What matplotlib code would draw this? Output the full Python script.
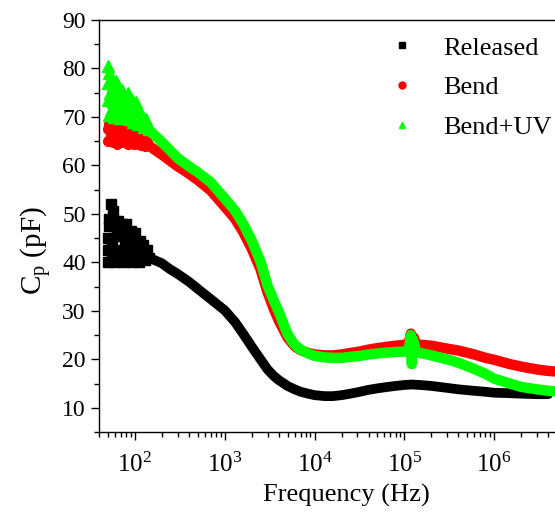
import matplotlib
matplotlib.use("Agg")
import matplotlib.pyplot as plt
from matplotlib.lines import Line2D
from matplotlib.ticker import LogLocator, MultipleLocator, NullFormatter

plt.rcParams['font.family'] = ['Liberation Serif', 'DejaVu Serif']
plt.rcParams['mathtext.fontset'] = 'custom'
plt.rcParams['mathtext.rm'] = 'Liberation Serif'
plt.rcParams['mathtext.it'] = 'Liberation Serif:italic'

# ---- data ----
released_f = [50, 50, 50, 51, 52, 54, 55, 56, 57, 58, 59, 60, 62, 63, 65, 67, 68, 70, 72, 74, 75, 78, 80,
              82, 84, 87, 90, 92, 96, 100, 102, 107, 110, 113, 118, 123, 128, 135, 142,
              150, 200, 245, 300, 400, 528, 700, 1000, 1300, 1600, 2000, 2500, 3000, 3500, 4000, 5000, 6000,
              7000, 8500, 10000, 13000, 16000, 20000, 25000, 32000, 40000, 50000, 65000, 80000, 100000,
              120000, 150000, 200000, 300000, 400000, 600000, 800000, 1e6, 1.5e6, 2e6, 3e6, 4e6]
released_c = [40.0, 42.5, 45.0, 47.5, 49.0, 52.0, 41.0, 44.0, 50.5, 47.5, 40.0, 48.5, 42.5, 46.0, 48.5, 40.2,
              45.5, 42.0, 48.0, 40.0, 46.0, 43.5, 48.0, 40.5, 45.5, 42.5, 46.5, 40.0, 44.0, 46.0, 41.5,
              43.5, 40.0, 44.5, 41.5, 43.5, 40.5, 42.5, 41.0,
              40.8, 39.8, 38.6, 37.6, 36.0, 34.2, 32.4, 30.1, 27.7, 25.3, 22.6, 20.0, 17.9, 16.6, 15.7, 14.5,
              13.8, 13.3, 12.9, 12.6, 12.4, 12.4, 12.6, 12.9, 13.3, 13.7, 14.0, 14.3, 14.5, 14.7,
              14.8, 14.7, 14.5, 14.1, 13.8, 13.5, 13.3, 13.1, 13.0, 12.9, 12.8, 12.8]

bend_f = [50, 50, 52, 53, 54, 56, 57, 58, 60, 61, 63, 65, 67, 69, 71, 74, 77, 80, 83, 86, 90, 94, 98,
          102, 107, 112, 118, 124, 130, 138,
          150, 200, 300, 400, 500, 700, 1000, 1300, 1600, 2000, 2500, 3000, 3500, 4000, 5000, 6000,
          7000, 8500, 10000, 13000, 16000, 20000, 25000, 32000, 40000, 50000, 65000, 80000, 100000,
          112000, 118000, 122000, 127000, 135000, 150000, 200000, 300000, 400000, 600000, 800000, 1e6,
          1.5e6, 2e6, 3e6, 4e6, 4.7e6]
bend_c = [65.0, 67.5, 68.5, 65.5, 66.5, 75.0, 64.8, 67.5, 65.5, 68.5, 64.5, 67.0, 72.0, 65.0, 67.5, 64.8,
          66.5, 68.0, 64.5, 66.5, 65.0, 67.0, 64.5, 66.5, 64.5, 66.0, 64.2, 65.5, 64.0, 64.8,
          63.8, 62.2, 59.8, 58.3, 57.0, 54.8, 51.5, 49.0, 46.3, 42.8, 38.6, 33.8, 30.5, 28.0, 24.5, 22.7,
          21.9, 21.3, 21.0, 20.8, 20.8, 21.0, 21.3, 21.6, 22.0, 22.3, 22.6, 22.8, 23.0,
          23.2, 25.3, 23.0, 24.5, 23.2, 23.0, 22.8, 22.2, 21.8, 21.0, 20.3, 19.9,
          19.0, 18.5, 17.9, 17.6, 17.5]

uv_f = [50, 50, 50, 51, 52, 53, 54, 55, 57, 58, 59, 61, 62, 64, 66, 67, 69, 71, 73, 76, 78, 81, 84, 86,
        89, 92, 95, 99, 103, 107, 111, 116, 121, 127, 134, 142,
        150, 200, 300, 400, 500, 700, 1000, 1300, 1600, 2000, 2500, 3000, 3500, 4000, 5000, 6000,
        7000, 8500, 10000, 13000, 16000, 20000, 25000, 32000, 40000, 50000, 65000, 80000, 100000,
        112000, 118000, 121000, 125000, 135000, 150000, 200000, 300000, 400000, 600000, 800000, 1e6,
        1.5e6, 2e6, 3e6, 4e6, 4.7e6]
uv_c = [80.5, 77.0, 73.5, 70.5, 79.0, 75.0, 71.5, 78.0, 73.0, 76.5, 70.0, 74.5, 77.5, 71.5, 76.0, 73.0,
        69.8, 75.5, 72.0, 74.5, 70.0, 73.0, 75.0, 69.5, 72.0, 73.5, 69.0, 71.5, 73.0, 68.5, 71.0, 69.0,
        70.5, 68.0, 69.5, 67.5,
        67.0, 64.8, 61.5, 59.8, 58.6, 56.5, 53.2, 50.7, 48.0, 44.5, 40.2, 35.2, 32.2, 29.8, 25.2, 23.0,
        22.0, 21.2, 20.7, 20.4, 20.3, 20.3, 20.5, 20.7, 21.0, 21.2, 21.4, 21.5, 21.6,
        21.8, 25.0, 19.0, 24.0, 21.5, 21.3, 20.8, 20.0, 19.3, 18.0, 17.0, 16.0,
        15.0, 14.3, 13.8, 13.5, 13.4]

labels = ["Released", "Bend", "Bend+UV"]
colors = ["#000000", "#ff0000", "#00ff00"]
markers = ["s", "o", "^"]

fig = plt.figure(figsize=(5.55, 5.12), dpi=100)
ax = fig.add_axes([99 / 555, 1 - 432 / 512, (555 - 99) / 555, (432 - 20) / 512])

series = [(released_f, released_c), (bend_f, bend_c), (uv_f, uv_c)]
lws = [7.0, 7.5, 7.5]
msz = [7.0, 7.0, 8.0]
for (f, c), col, m, lw, ms in zip(series, colors, markers, lws, msz):
    # continuous band for the smooth part, individual markers for the noisy low-frequency part
    lf = [x for x in f if x >= 140]
    lc = [y for x, y in zip(f, c) if x >= 140]
    ax.plot(lf, lc, color=col, lw=lw, solid_capstyle='round', solid_joinstyle='round')
    nf = [x for x in f if x < 150]
    nc = [y for x, y in zip(f, c) if x < 150]
    ax.plot(nf, nc, ls='none', marker=m, ms=ms, mec=col, mfc=col)

ax.set_xscale('log')
ax.set_xlim(39.8, 4.76e6)
ax.set_ylim(5, 90)
ax.yaxis.set_major_locator(MultipleLocator(10))
ax.yaxis.set_minor_locator(MultipleLocator(5))
ax.xaxis.set_major_locator(LogLocator(base=10, numticks=20))
ax.xaxis.set_minor_locator(LogLocator(base=10, subs=range(2, 10), numticks=20))
ax.xaxis.set_minor_formatter(NullFormatter())

ax.tick_params(which='major', direction='out', length=6, width=1.0, labelsize=17)
ax.tick_params(which='minor', direction='out', length=3.5, width=1.0)
ax.tick_params(axis='x', which='major', labelsize=18, pad=9)
for s in ['left', 'bottom', 'top']:
    ax.spines[s].set_linewidth(1.0)
ax.spines['right'].set_visible(False)

ax.set_xlabel("Frequency (Hz)", fontsize=19)
ax.xaxis.set_label_coords(0.542, -0.125)
ax.set_ylabel(r"C$_\mathrm{p}$ (pF)", fontsize=21)
ax.yaxis.set_label_coords(-0.098, 0.44)

handles = [Line2D([], [], ls='none', marker=m, color=c, ms=5) for m, c in zip(markers, colors)]
ax.legend(handles, labels, loc='upper right', bbox_to_anchor=(1.022, 0.993), frameon=False,
          fontsize=19, handlelength=1.0, handletextpad=1.05, labelspacing=0.62, borderaxespad=0.1)

fig.savefig("out.png", dpi=100)
